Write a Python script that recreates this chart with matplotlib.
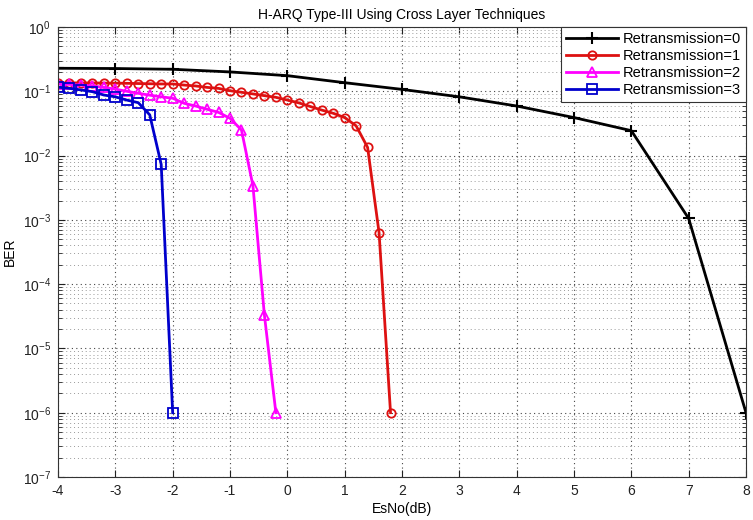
import numpy as np
import matplotlib
matplotlib.use("Agg")
import matplotlib.pyplot as plt
from matplotlib.ticker import LogLocator, NullFormatter

plt.rcParams['font.family'] = ['Liberation Sans', 'DejaVu Sans']
plt.rcParams['axes.unicode_minus'] = False

x0 = [-4, -3, -2, -1, 0, 1, 2, 3, 4, 5, 6, 7, 8]
ber0 = [0.228, 0.226, 0.22, 0.2, 0.175, 0.136, 0.107, 0.082, 0.059, 0.039, 0.0244, 1.05e-3, 1e-6]

x1 = [-4.0, -3.8, -3.6, -3.4, -3.2, -3.0, -2.8, -2.6, -2.4, -2.2, -2.0,
      -1.8, -1.6, -1.4, -1.2, -1.0, -0.8, -0.6, -0.4, -0.2, 0.0,
      0.2, 0.4, 0.6, 0.8, 1.0, 1.2, 1.4, 1.6, 1.8]
ber1 = [0.134, 0.135, 0.135, 0.135, 0.134, 0.134, 0.133, 0.132, 0.131, 0.13, 0.13,
        0.125, 0.121, 0.115, 0.111, 0.102, 0.0965, 0.091, 0.0855, 0.0806, 0.073,
        0.066, 0.058, 0.051, 0.0455, 0.039, 0.029, 0.0134, 6.3e-4, 1e-6]

x2 = [-4.0, -3.8, -3.6, -3.4, -3.2, -3.0, -2.8, -2.6, -2.4, -2.2, -2.0,
      -1.8, -1.6, -1.4, -1.2, -1.0, -0.8, -0.6, -0.4, -0.2]
ber2 = [0.13, 0.128, 0.125, 0.121, 0.115, 0.108, 0.1, 0.093, 0.087, 0.082, 0.078,
        0.065, 0.059, 0.0525, 0.047, 0.038, 0.025, 3.4e-3, 3.3e-5, 1e-6]

x3 = [-4.0, -3.8, -3.6, -3.4, -3.2, -3.0, -2.8, -2.6, -2.4, -2.2, -2.0]
ber3 = [0.116, 0.111, 0.105, 0.0986, 0.0875, 0.082, 0.073, 0.0665, 0.043, 7.3e-3, 1e-6]

labels = ['Retransmission=0', 'Retransmission=1', 'Retransmission=2', 'Retransmission=3']

fig = plt.figure(figsize=(7.53, 5.2), dpi=100)
ax = fig.add_axes([58/753, 43/520, (746-58)/753, (477-27)/520])

lw = 2.0
ax.semilogy(x0, ber0, color='black', marker='+', markersize=9, mew=1.5, lw=lw, label=labels[0])
ax.semilogy(x1, ber1, color='#dd1111', marker='o', markersize=6, mfc='none', mew=1.3, lw=lw, label=labels[1])
ax.semilogy(x2, ber2, color='#ff00ff', marker='^', markersize=7, mfc='none', mew=1.3, lw=lw, label=labels[2])
ax.semilogy(x3, ber3, color='#0000cc', marker='s', markersize=6.5, mfc='none', mew=1.3, lw=lw, label=labels[3])

ax.set_xlim(-4, 8)
ax.set_ylim(1e-7, 1)
ax.set_xticks(range(-4, 9))
ax.yaxis.set_major_locator(LogLocator(base=10, numticks=10))
ax.yaxis.set_minor_locator(LogLocator(base=10, subs=np.arange(2, 10), numticks=100))
ax.yaxis.set_minor_formatter(NullFormatter())

ax.grid(True, which='major', linestyle=(0, (1, 3)), color='#444444', linewidth=0.8)
ax.grid(True, which='minor', axis='y', linestyle=(0, (1, 3)), color='#999999', linewidth=0.7)
ax.tick_params(which='both', direction='in', top=True, right=True, labelsize=10, colors='#222222')
ax.tick_params(which='major', length=5, pad=5)
ax.tick_params(which='minor', length=3)
for s in ax.spines.values():
    s.set_color('#333333')

ax.set_title('H-ARQ Type-III Using Cross Layer Techniques', fontsize=10, pad=6)
ax.set_xlabel('EsNo(dB)', fontsize=10, labelpad=3)
ax.set_ylabel('BER', fontsize=10, labelpad=4)

leg = ax.legend(loc='upper right', fontsize=10.5, fancybox=False, edgecolor='#333333',
                framealpha=1, borderaxespad=0.0, handlelength=3.6, labelspacing=0.2,
                borderpad=0.35, handletextpad=0.3)
leg.get_frame().set_linewidth(0.8)

fig.savefig('out.png', dpi=100)
